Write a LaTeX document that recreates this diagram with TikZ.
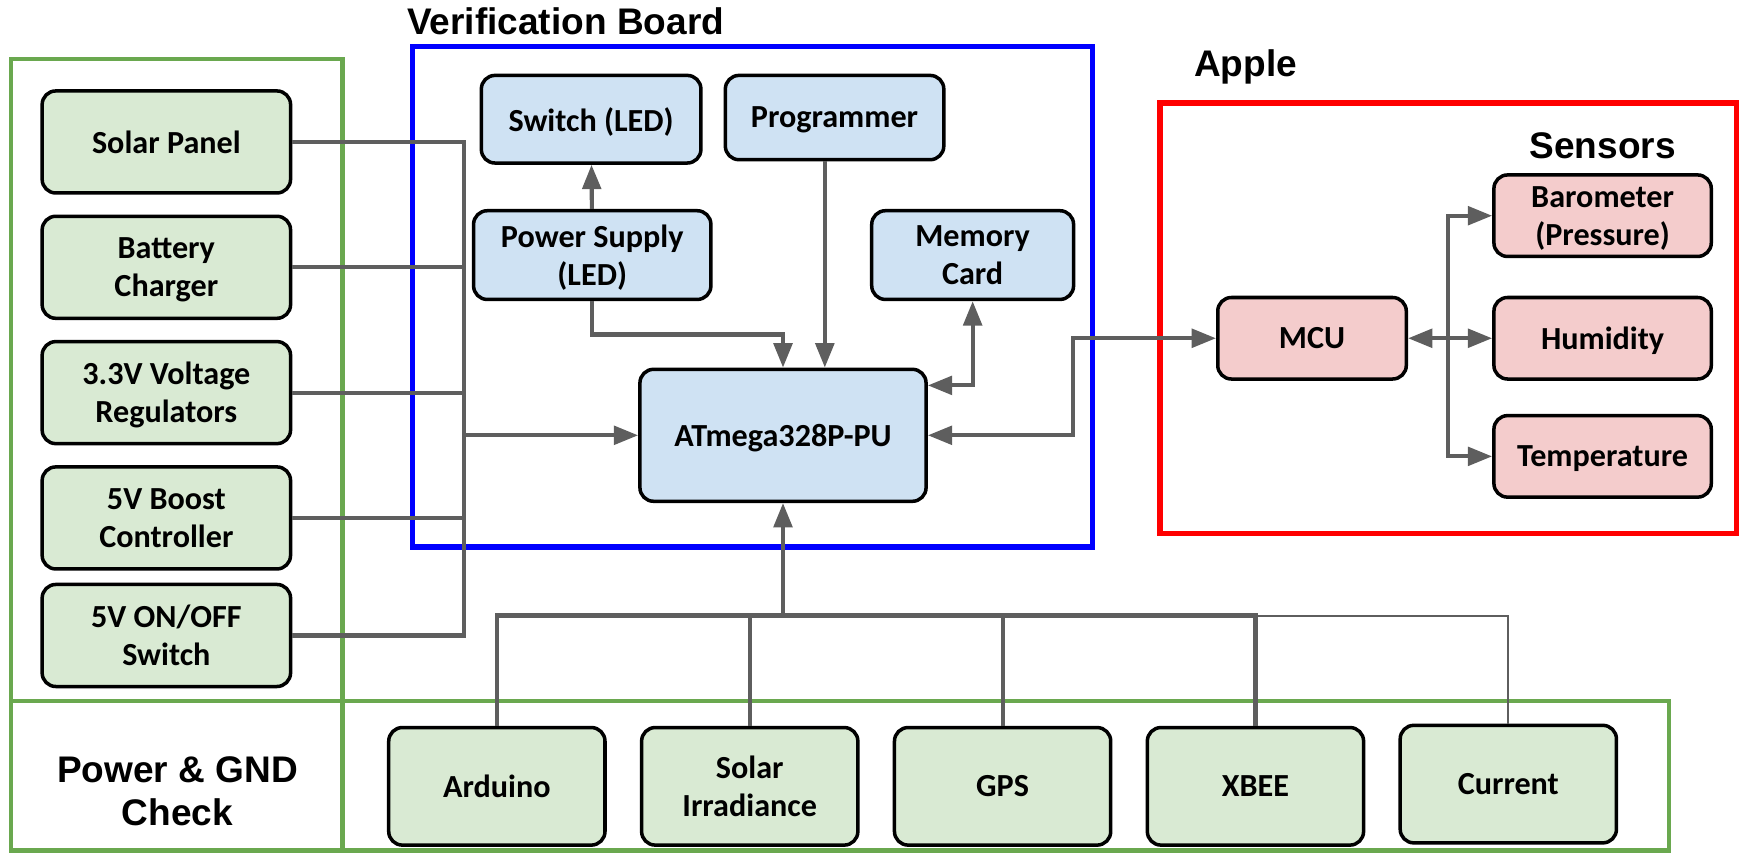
\documentclass[tikz,border=0pt]{standalone}
\usepackage{fontspec}
\setmainfont{Carlito}
\newfontfamily\headfont{Liberation Sans}
\usetikzlibrary{arrows.meta}

\definecolor{wiregray}{HTML}{5E5E5E}
\definecolor{greenfill}{HTML}{D9EAD3}
\definecolor{greenline}{HTML}{6AA84F}
\definecolor{bluefill}{HTML}{CFE2F3}
\definecolor{redfill}{HTML}{F4CCCC}

\tikzset{
  blk/.style={draw, line width=1.8pt, rounded corners=7pt, align=center,
    inner sep=0pt, text depth=0pt, font=\fontsize{16.5}{19.5}\selectfont\bfseries},
  greenblk/.style={blk, fill=greenfill},
  blueblk/.style={blk, fill=bluefill},
  redblk/.style={blk, fill=redfill, minimum width=3.92cm, minimum height=1.47cm},
  wire/.style={draw=wiregray, line width=2.1pt},
  arr/.style={wire, -{Triangle[length=12.5pt,width=9.5pt]}},
  arrr/.style={wire, {Triangle[length=12.5pt,width=9.5pt]}-{Triangle[length=12.5pt,width=9.5pt]}},
  head/.style={font=\fontsize{19}{22}\selectfont\headfont\bfseries, align=center}
}

\begin{document}
\begin{tikzpicture}
\useasboundingbox (0,0) rectangle (31.36,15.38);

  % frames
  \draw[greenline, line width=2.3pt] (0.2,2.74) rectangle (6.18,14.32);
  \draw[greenline, line width=2.3pt] (0.2,0.04) rectangle (30.1,2.74);
  \draw[greenline, line width=2.3pt] (6.18,0.04) -- (6.18,2.74);
  \draw[blue, line width=2.9pt] (7.44,5.52) rectangle (19.7,14.54);
  \draw[red, line width=2.9pt] (20.92,5.76) rectangle (31.32,13.52);

  \node[head] (vbtitle) at (10.2,15.0) {Verification Board};
  \node[head] (appletitle) at (22.46,14.18) {Apple};
  \node[head] (senstitle) at (28.9,12.76) {Sensors};
  \node[head] (pwrtitle) at (3.2,1.11) {Power \& GND\\Check};

  % power side
  \begin{scope}[every node/.style={greenblk, minimum width=4.48cm, minimum height=1.84cm}]
  \node (solar) at (3.0,12.82) {Solar Panel};
  \node (charger) at (3.0,10.56) {Battery\\Charger};
  \node (regul) at (3.0,8.3) {3.3V Voltage\\Regulators};
  \node (boost) at (3.0,6.04) {5V Boost\\Controller};
  \node (onoff) at (3.0,3.92) {5V ON/OFF\\Switch};
  \end{scope}

  % verification board
  \node[blueblk, minimum width=3.96cm, minimum height=1.58cm] (switch) at (10.66,13.23) {Switch (LED)};
  \node[blueblk, minimum width=3.94cm, minimum height=1.52cm] (prog) at (15.05,13.26) {Programmer};
  \node[blueblk, minimum width=4.28cm, minimum height=1.6cm] (psu) at (10.68,10.78) {Power Supply\\(LED)};
  \node[blueblk, minimum width=3.64cm, minimum height=1.6cm] (mem) at (17.54,10.78) {Memory\\Card};
  \node[blueblk, minimum width=5.16cm, minimum height=2.38cm] (atmega) at (14.12,7.53) {ATmega328P-PU};

  % apple
  \node[redblk, minimum width=3.4cm] (mcu) at (23.66,9.28) {MCU};
  \node[redblk] (baro) at (28.9,11.49) {Barometer\\(Pressure)};
  \node[redblk] (hum) at (28.9,9.28) {Humidity};
  \node[redblk] (temp) at (28.9,7.15) {Temperature};

  % checks
  \begin{scope}[every node/.style={greenblk, minimum width=3.9cm, minimum height=2.12cm}]
  \node (arduino) at (8.96,1.2) {Arduino};
  \node (solirr) at (13.52,1.2) {Solar\\Irradiance};
  \node (gps) at (18.08,1.2) {GPS};
  \node (xbee) at (22.64,1.2) {XBEE};
  \node (current) at (27.2,1.24) {Current};
  \end{scope}

  % left bus
  \coordinate (lbus) at (8.36,0);
  \draw[wire] (solar.east) -| (lbus |- onoff.east) -- (onoff.east);
  \foreach \n in {charger,regul,boost}
    \draw[wire] (\n.east) -- (\n.east -| lbus);
  \draw[arr] (lbus |- atmega.west) -- (atmega.west);

  % inside the board
  \draw[arr] (psu) -- (switch);
  \draw[arr] ([xshift=-5pt]prog.south) -- ([xshift=-5pt]prog.south |- atmega.north);
  \draw[arr] (psu.south) -- ++(0,-0.6) -| (atmega.north);
  \draw[arrr] (mem.south) |- ([yshift=0.9cm]atmega.east);
  \draw[arrr] (atmega.east) -- ++(2.62,0) |- (mcu.west);

  % sensors
  \coordinate (sbus) at (26.12,0);
  \draw[arrr] (mcu) -- (hum);
  \draw[arr] (sbus |- hum.west) |- (baro.west);
  \draw[arr] (sbus |- hum.west) |- (temp.west);

  % bottom bus
  \coordinate (bbus) at (0,4.28);
  \draw[wire] (arduino.north) |- (xbee.north |- bbus) -- (xbee.north);
  \draw[wire] (solirr.north) -- (solirr.north |- bbus);
  \draw[wire] (gps.north) -- (gps.north |- bbus);
  \draw[draw=wiregray, line width=1pt] (xbee.north |- bbus) -| (current.north);
  \draw[arr] (atmega.south |- bbus) -- (atmega.south);

\end{tikzpicture}
\end{document}
